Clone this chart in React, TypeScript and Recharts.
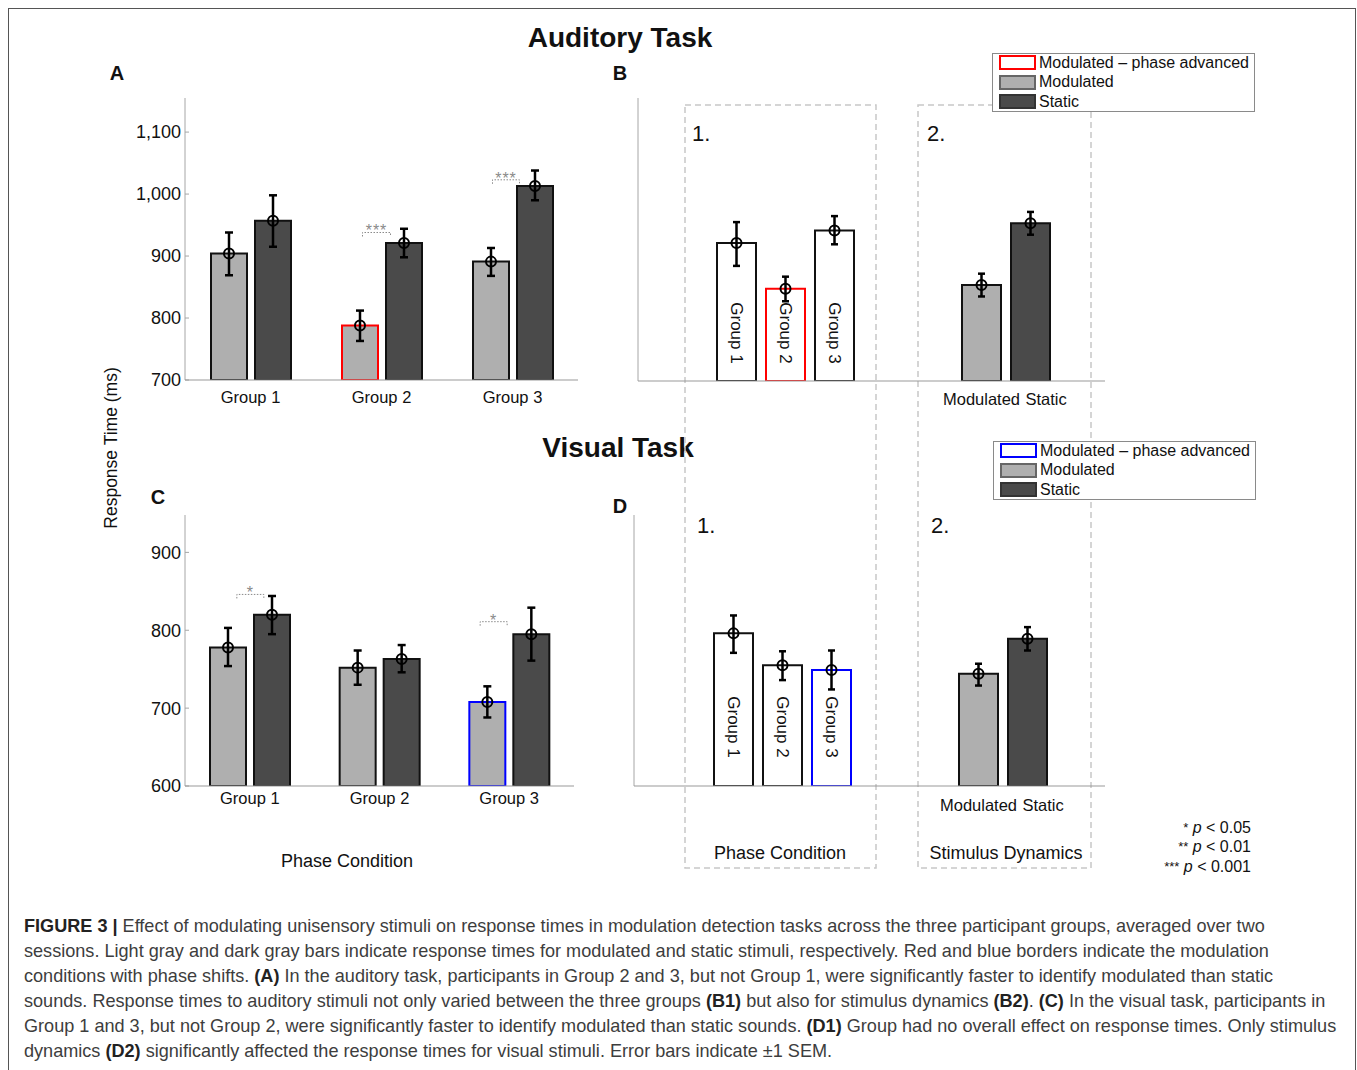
import React from 'react';
import { BarChart, Bar, XAxis, YAxis, ErrorBar, Cell, LabelList, ReferenceDot } from 'recharts';

const FONT = '"Liberation Sans", Arial, Helvetica, sans-serif';
const LIGHT = '#afafaf';
const DARK = '#4a4a4a';
const EDGE = '#111111';
const AXIS = '#a6a6a6';
const RED = '#ff0000';
const BLUE = '#0000ff';

const GROUPS = ['Group 1', 'Group 2', 'Group 3'];

// A: auditory task, per group (ms), with +-1 SEM bounds
const audModMean = [904, 788, 891];
const audModLo = [869, 763, 868];
const audModHi = [938, 812, 913];
const audStatMean = [957, 921, 1013];
const audStatLo = [915, 898, 990];
const audStatHi = [998, 944, 1038];

// B: main effects (B1 groups, B2 stimulus dynamics)
const MAIN_CATS = ['Group 1', 'Group 2', 'Group 3', 'gap1', 'gap2', 'Modulated', 'Static'];
const audMainMean = [930, 854, 951, null, null, 860, 963];
const audMainLo = [892, 833, 928, null, null, 841, 944];
const audMainHi = [965, 874, 975, null, null, 879, 982];

// C: visual task, per group
const visModMean = [778, 752, 708];
const visModLo = [754, 730, 688];
const visModHi = [803, 774, 728];
const visStatMean = [820, 763, 795];
const visStatLo = [795, 746, 761];
const visStatHi = [844, 781, 829];

// D: main effects
const visMainMean = [796, 755, 749, null, null, 744, 789];
const visMainLo = [771, 736, 724, null, null, 729, 774];
const visMainHi = [819, 773, 774, null, null, 757, 804];

// significance marks: [category, bracket value, stars]
const audSig: [string, number, string][] = [['Group 2', 938, '***'], ['Group 3', 1023, '***']];
const visSig: [string, number, string][] = [['Group 1', 846, '*'], ['Group 3', 811, '*']];
const audSigDx = [[-19, 9], [-20, 7]];
const visSigDx = [[-13, 14], [-29, -2]];

const err = (m: number | null, lo: number | null, hi: number | null) =>
  m == null || lo == null || hi == null ? null : [m - lo, hi - m];

const tableA = GROUPS.map((g, i) => ({
  name: g,
  mod: audModMean[i],
  modErr: err(audModMean[i], audModLo[i], audModHi[i]),
  stat: audStatMean[i],
  statErr: err(audStatMean[i], audStatLo[i], audStatHi[i]),
}));
const tableC = GROUPS.map((g, i) => ({
  name: g,
  mod: visModMean[i],
  modErr: err(visModMean[i], visModLo[i], visModHi[i]),
  stat: visStatMean[i],
  statErr: err(visStatMean[i], visStatLo[i], visStatHi[i]),
}));
const tableB = MAIN_CATS.map((c, i) => ({ name: c, v: audMainMean[i], e: err(audMainMean[i], audMainLo[i], audMainHi[i]) }));
const tableD = MAIN_CATS.map((c, i) => ({ name: c, v: visMainMean[i], e: err(visMainMean[i], visMainLo[i], visMainHi[i]) }));

const MAIN_FILL = ['#fff', '#fff', '#fff', '#fff', '#fff', LIGHT, DARK];

const box = (p: any) => (p.viewBox && p.viewBox.width != null ? p.viewBox : p);

function Marker(props: any) {
  const { x, y, width } = box(props);
  if (props.value == null || y == null) return null;
  return <circle cx={Number(x) + Number(width) / 2} cy={Number(y)} r={5} fill="none" stroke="#000" strokeWidth={2} />;
}

const innerLabel = (offset: number) => (props: any) => {
  const { x, y, width, height } = box(props);
  const name = MAIN_CATS[props.index];
  if (!name || !name.startsWith('Group') || y == null) return null;
  const cx = Number(x) + Number(width) / 2;
  const cy = Number(y) + Number(height) - offset;
  return (
    <text x={cx} y={cy} transform={`rotate(90 ${cx} ${cy})`} textAnchor="middle" dominantBaseline="central" fontSize={17} fill="#111">
      {name}
    </text>
  );
};

function Bracket({ cx, cy, dx, stars }: any) {
  return (
    <g>
      <path d={`M${cx + dx[0]},${cy + 4} V${cy} H${cx + dx[1]} V${cy + 4}`} stroke="#8a8a8a" strokeDasharray="1.5 1.5" fill="none" strokeWidth={1} />
      <text x={cx + (dx[0] + dx[1]) / 2} y={cy + 4} textAnchor="middle" fontSize={16} letterSpacing={1} fill="#8a8a8a">
        {stars}
      </text>
    </g>
  );
}

function MainTick(p: any) {
  const v = p.payload && p.payload.value;
  if (v !== 'Modulated' && v !== 'Static') return <g />;
  const start = v === 'Static';
  return (
    <text x={p.x + (start ? -5 : 0)} y={p.y} dy="0.71em" textAnchor={start ? 'start' : 'middle'} fontSize={16.5} fill="#111">
      {v}
    </text>
  );
}

function GroupChart({ data, domain, ticks, phaseIdx, phaseColor, sig, sigDx, height, top, xWidth, labelMargin }: any) {
  return (
    <BarChart width={85 + xWidth + 12} height={height} data={data} margin={{ top, right: 12, bottom: 0, left: 0 }} barGap={8} barSize={36}>
      <YAxis type="number" domain={domain} ticks={ticks} allowDataOverflow width={85}
        tickFormatter={(v: number) => v.toLocaleString('en-US')}
        axisLine={{ stroke: AXIS }} tickLine={{ stroke: AXIS }} tickSize={-4} tickMargin={8}
        tick={{ fontSize: 18, fill: '#111' }} />
      <XAxis dataKey="name" height={40} interval={0} axisLine={{ stroke: '#999' }} tickLine={false} tickSize={0}
        tickMargin={labelMargin} tick={{ fontSize: 16.5, fill: '#111' }} />
      <Bar dataKey="mod" fill={LIGHT} stroke={EDGE} strokeWidth={2} isAnimationActive={false}>
        {data.map((_: any, i: number) => (
          <Cell key={i} stroke={i === phaseIdx ? phaseColor : EDGE} />
        ))}
        <ErrorBar dataKey="modErr" width={4} strokeWidth={2.5} stroke="#000" />
        <LabelList dataKey="mod" content={Marker} />
      </Bar>
      <Bar dataKey="stat" fill={DARK} stroke={EDGE} strokeWidth={2} isAnimationActive={false}>
        <ErrorBar dataKey="statErr" width={4} strokeWidth={2.5} stroke="#000" />
        <LabelList dataKey="stat" content={Marker} />
      </Bar>
      {sig.map((s: any, i: number) => (
        <ReferenceDot key={i} x={s[0]} y={s[1]} ifOverflow="visible"
          shape={(p: any) => <Bracket cx={p.cx} cy={p.cy} dx={sigDx[i]} stars={s[2]} />} />
      ))}
    </BarChart>
  );
}

function MainChart({ data, domain, ticks, yWidth, xWidth, pad, phaseIdx, phaseColor, height, top, labelMargin, innerOffset }: any) {
  return (
    <BarChart width={yWidth + xWidth + 10} height={height} data={data} margin={{ top, right: 10, bottom: 0, left: 0 }} barSize={39}>
      <YAxis type="number" domain={domain} ticks={ticks} allowDataOverflow width={yWidth}
        axisLine={{ stroke: AXIS }} tickLine={{ stroke: AXIS }} tickSize={-5} tick={false} />
      <XAxis dataKey="name" height={40} interval={0} padding={pad} axisLine={{ stroke: '#999' }} tickLine={false}
        tickSize={0} tickMargin={labelMargin} tick={<MainTick />} />
      <Bar dataKey="v" stroke={EDGE} strokeWidth={2} isAnimationActive={false}>
        {data.map((_: any, i: number) => (
          <Cell key={i} fill={MAIN_FILL[i]} stroke={i === phaseIdx ? phaseColor : EDGE} />
        ))}
        <ErrorBar dataKey="e" width={3.5} strokeWidth={2.5} stroke="#000" />
        <LabelList dataKey="v" content={Marker} />
        <LabelList dataKey="v" content={innerLabel(innerOffset)} />
      </Bar>
    </BarChart>
  );
}

function At({ x, y, children, style, center = true }: any) {
  return (
    <div style={{ position: 'absolute', left: x, top: y, transform: center ? 'translate(-50%, -50%)' : 'translateY(-50%)', whiteSpace: 'nowrap', lineHeight: 1, ...style }}>
      {children}
    </div>
  );
}

function LegendBox({ x, y, edge }: any) {
  const rows = [
    { label: 'Modulated \u2013 phase advanced', fill: '#fff', stroke: edge },
    { label: 'Modulated', fill: LIGHT, stroke: '#666' },
    { label: 'Static', fill: DARK, stroke: '#333' },
  ];
  return (
    <div style={{ position: 'absolute', left: x, top: y, width: 261, height: 57, border: '1px solid #8a8a8a', background: '#fff' }}>
      {rows.map((r, i) => (
        <div key={i} style={{ position: 'absolute', left: 6, top: i * 19.5, height: 17, display: 'flex', alignItems: 'center' }}>
          <div style={{ width: 33, height: 11, background: r.fill, border: `2px solid ${r.stroke}`, marginRight: 3 }} />
          <span style={{ fontSize: 16, color: '#111' }}>{r.label}</span>
        </div>
      ))}
    </div>
  );
}

const CAPTION: [string, boolean][][] = [
  [['FIGURE 3 | ', true], ['Effect of modulating unisensory stimuli on response times in modulation detection tasks across the three participant groups, averaged over two', false]],
  [['sessions. Light gray and dark gray bars indicate response times for modulated and static stimuli, respectively. Red and blue borders indicate the modulation', false]],
  [['conditions with phase shifts. ', false], ['(A)', true], [' In the auditory task, participants in Group 2 and 3, but not Group 1, were significantly faster to identify modulated than static', false]],
  [['sounds. Response times to auditory stimuli not only varied between the three groups ', false], ['(B1)', true], [' but also for stimulus dynamics ', false], ['(B2)', true], ['. ', false], ['(C)', true], [' In the visual task, participants in', false]],
  [['Group 1 and 3, but not Group 2, were significantly faster to identify modulated than static sounds. ', false], ['(D1)', true], [' Group had no overall effect on response times. Only stimulus', false]],
  [['dynamics ', false], ['(D2)', true], [' significantly affected the response times for visual stimuli. Error bars indicate \u00b11 SEM.', false]],
];

export default function App() {
  return (
    <div style={{ position: 'absolute', left: 0, top: 0, width: 1357, height: 1070, overflow: 'hidden', fontFamily: FONT, color: '#111', background: '#fff' }}>
      <div style={{ position: 'absolute', left: 8, top: 8, width: 1346, height: 1070, borderTop: '1.5px solid #555', borderLeft: '1.5px solid #555', borderRight: '1.5px solid #555' }} />

      <At x={620} y={38} style={{ fontSize: 28, fontWeight: 'bold' }}>Auditory Task</At>
      <At x={618} y={448} style={{ fontSize: 28, fontWeight: 'bold' }}>Visual Task</At>
      <At x={117} y={73} style={{ fontSize: 20, fontWeight: 'bold' }}>A</At>
      <At x={620} y={73} style={{ fontSize: 20, fontWeight: 'bold' }}>B</At>
      <At x={158} y={497} style={{ fontSize: 20, fontWeight: 'bold' }}>C</At>
      <At x={620} y={506} style={{ fontSize: 20, fontWeight: 'bold' }}>D</At>
      <At x={112} y={448} style={{ fontSize: 17.5, transform: 'translate(-50%, -50%) rotate(-90deg)' }}>Response Time (ms)</At>

      <svg width={1357} height={1070} style={{ position: 'absolute', left: 0, top: 0 }}>
        <rect x={685} y={105} width={191} height={763} fill="none" stroke="#c8c8c8" strokeWidth={1.5} strokeDasharray="6 4" />
        <rect x={918} y={105} width={173} height={763} fill="none" stroke="#c8c8c8" strokeWidth={1.5} strokeDasharray="6 4" />
      </svg>

      <div style={{ position: 'absolute', left: 100, top: 90 }}>
        <GroupChart data={tableA} domain={[700, 1155]} ticks={[700, 800, 900, 1000, 1100]} phaseIdx={1} phaseColor={RED}
          sig={audSig} sigDx={audSigDx} height={330} top={8} xWidth={393} labelMargin={11} />
      </div>
      <div style={{ position: 'absolute', left: 560, top: 90 }}>
        <MainChart data={tableB} domain={[700, 1172]} ticks={[700, 800, 900, 1000, 1100]} yWidth={78} xWidth={467}
          pad={{ left: 74, right: 50 }} phaseIdx={1} phaseColor={RED} height={331} top={8} labelMargin={12} innerOffset={48} />
      </div>
      <div style={{ position: 'absolute', left: 100, top: 505 }}>
        <GroupChart data={tableC} domain={[600, 948]} ticks={[600, 700, 800, 900]} phaseIdx={2} phaseColor={BLUE}
          sig={visSig} sigDx={visSigDx} height={321} top={10} xWidth={389} labelMargin={6} />
      </div>
      <div style={{ position: 'absolute', left: 560, top: 505 }}>
        <MainChart data={tableD} domain={[600, 948]} ticks={[600, 700, 800, 900]} yWidth={74} xWidth={471}
          pad={{ left: 75, right: 53 }} phaseIdx={2} phaseColor={BLUE} height={321} top={10} labelMargin={13} innerOffset={59} />
      </div>

      <At x={692} y={134} center={false} style={{ fontSize: 22 }}>1.</At>
      <At x={927} y={134} center={false} style={{ fontSize: 22 }}>2.</At>
      <At x={697} y={526} center={false} style={{ fontSize: 22 }}>1.</At>
      <At x={931} y={526} center={false} style={{ fontSize: 22 }}>2.</At>

      <At x={347} y={861} style={{ fontSize: 18 }}>Phase Condition</At>
      <At x={780} y={853} style={{ fontSize: 18 }}>Phase Condition</At>
      <At x={1006} y={853} style={{ fontSize: 18 }}>Stimulus Dynamics</At>

      <LegendBox x={992} y={53} edge={RED} />
      <LegendBox x={993} y={441} edge={BLUE} />

      {[['*', '0.05', 828], ['**', '0.01', 847], ['***', '0.001', 867]].map(([s, p, y]) => (
        <div key={String(y)} style={{ position: 'absolute', right: 1357 - 1251, top: Number(y) - 9, fontSize: 16, lineHeight: '18px', whiteSpace: 'nowrap' }}>
          <span style={{ fontSize: 13, verticalAlign: 'top' }}>{s}</span> <i>p</i> &lt; {p}
        </div>
      ))}

      {CAPTION.map((line, i) => (
        <div key={i} style={{ position: 'absolute', left: 24, top: 914 + i * 25, fontSize: 18.1, lineHeight: '24px', color: '#3d3d3d', whiteSpace: 'nowrap' }}>
          {line.map(([t, b], j) => (
            <span key={j} style={{ fontWeight: b ? 'bold' : 'normal', color: b ? '#222' : undefined }}>{t}</span>
          ))}
        </div>
      ))}
    </div>
  );
}
